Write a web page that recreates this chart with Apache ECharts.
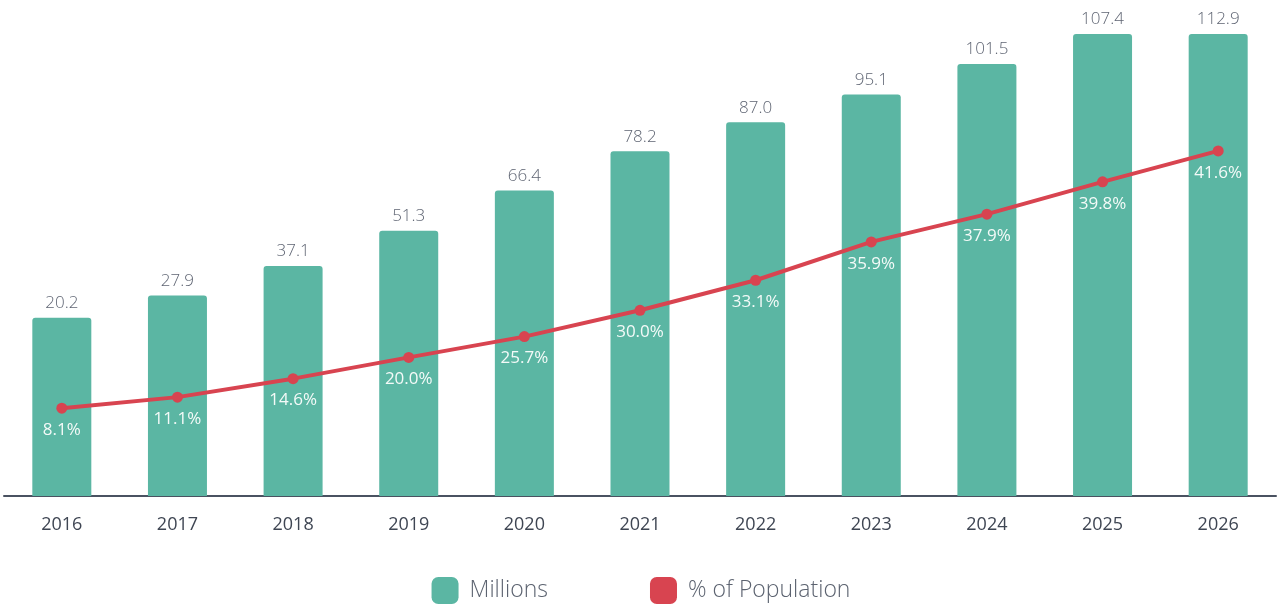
<!DOCTYPE html>
<html>
<head>
<meta charset="utf-8">
<script src="https://cdn.jsdelivr.net/npm/echarts@6/dist/echarts.min.js"></script>
<style>
  html, body { margin: 0; padding: 0; background: #ffffff; }
  #chart { width: 1282px; height: 605px; }
</style>
</head>
<body>
<div id="chart"></div>
<script>
// Categories
const years = ['2016', '2017', '2018', '2019', '2020', '2021', '2022', '2023', '2024', '2025', '2026'];
// Values printed on the reference (labels)
const millions = [20.2, 27.9, 37.1, 51.3, 66.4, 78.2, 87.0, 95.1, 101.5, 107.4, 112.9];
const pctOfPopulation = [8.1, 11.1, 14.6, 20.0, 25.7, 30.0, 33.1, 35.9, 37.9, 39.8, 41.6];
// In the reference the marks are not drawn proportionally to their printed values;
// these are the levels at which they are drawn (0–100 drawing scale).
const barLevels = [38.6, 43.4, 49.8, 57.4, 66.1, 74.6, 80.9, 86.9, 93.5, 100, 100];
const lineLevels = [19.0, 21.4, 25.4, 30.0, 34.5, 40.2, 46.7, 55.0, 61.0, 68.0, 74.7];
const seriesNames = ['Millions', '% of Population'];

const chart = echarts.init(document.getElementById('chart'), null, { renderer: 'canvas' });

const option = {
  animation: false,
  backgroundColor: '#ffffff',
  textStyle: { fontFamily: 'Open Sans' },
  grid: { left: 4, right: 6, top: 34, bottom: 109, containLabel: false },
  legend: {
    top: 572,
    left: 'center',
    itemWidth: 27,
    itemHeight: 27,
    itemGap: 102,
    icon: 'roundRect',
    textStyle: { fontFamily: 'Open Sans', fontSize: 23, fontWeight: 300, color: '#5c6370', padding: [0, 0, 0, 6] },
    data: seriesNames
  },
  xAxis: {
    type: 'category',
    data: years,
    axisLine: { show: true, lineStyle: { color: '#4a5261', width: 2 } },
    axisTick: { show: false },
    axisLabel: { color: '#3f4653', fontSize: 18, fontFamily: 'Open Sans', margin: 20 }
  },
  yAxis: {
    type: 'value',
    min: 0,
    max: 100,
    show: false,
    splitLine: { show: false }
  },
  series: [
    {
      name: seriesNames[0],
      type: 'bar',
      data: barLevels,
      barWidth: 59,
      itemStyle: { color: '#5bb6a3', borderRadius: [3, 3, 0, 0] },
      label: {
        show: true,
        position: 'top',
        distance: 6,
        fontFamily: 'Open Sans',
        fontSize: 17,
        fontWeight: 300,
        color: '#5f6573',
        formatter: p => millions[p.dataIndex].toFixed(1)
      },
      z: 1
    },
    {
      name: seriesNames[1],
      type: 'line',
      data: lineLevels,
      symbol: 'circle',
      symbolSize: 11,
      lineStyle: { color: '#d84450', width: 4 },
      itemStyle: { color: '#d84450' },
      label: {
        show: true,
        position: 'bottom',
        distance: 8,
        fontFamily: 'Open Sans',
        fontSize: 17,
        fontWeight: 400,
        color: '#f4faf8',
        formatter: p => pctOfPopulation[p.dataIndex].toFixed(1) + '%'
      },
      z: 3
    }
  ]
};

chart.setOption(option);
</script>
</body>
</html>
